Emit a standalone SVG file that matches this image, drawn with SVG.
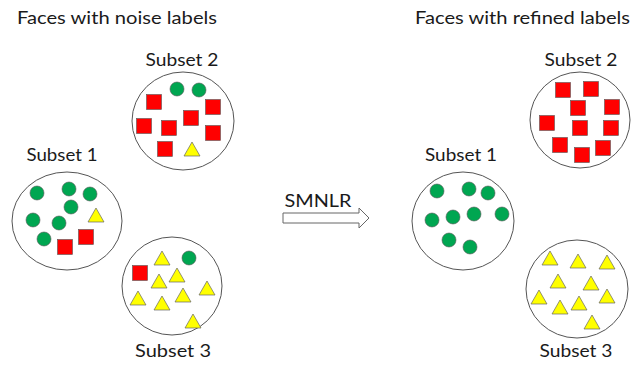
<svg xmlns="http://www.w3.org/2000/svg" xmlns:xlink="http://www.w3.org/1999/xlink" width="641" height="365" viewBox="0 0 641 365">
<style>
text{font-family:Lato,"Open Sans","DejaVu Sans",sans-serif;fill:#1a1a1a}
.title{font-size:17.5px}
.lbl{font-size:18px;text-anchor:middle}
.set{fill:#fff;stroke:#555;stroke-width:1}
.c{fill:#00a651;stroke:#555;stroke-width:0.6}
.s{fill:#ff0000;stroke:#555;stroke-width:0.6}
.t{fill:#ffff00;stroke:#666;stroke-width:0.7}
.arrow{fill:#fff;stroke:#666;stroke-width:1}
</style>
<defs>
<circle id="C" r="7" class="c"/>
<rect id="S" x="-7.5" y="-7.5" width="15" height="15" class="s"/>
<path id="T" d="M0,-8 L8,6 L-8,6 Z" class="t"/>
</defs>
<rect width="641" height="365" fill="#fff"/>
<text class="title" x="17" y="24" textLength="200" lengthAdjust="spacingAndGlyphs">Faces with noise labels</text>
<text class="title" x="415" y="24" textLength="215" lengthAdjust="spacingAndGlyphs">Faces with refined labels</text>

<g id="noisy-subset1">
<text class="lbl" x="62" y="161" textLength="71" lengthAdjust="spacingAndGlyphs">Subset 1</text>
<ellipse class="set" cx="67" cy="221" rx="55" ry="49"/>
<use xlink:href="#C" x="37" y="193"/>
<use xlink:href="#C" x="69" y="189"/>
<use xlink:href="#C" x="90" y="194"/>
<use xlink:href="#C" x="71" y="207"/>
<use xlink:href="#T" x="96" y="216"/>
<use xlink:href="#C" x="33" y="220"/>
<use xlink:href="#C" x="59" y="223"/>
<use xlink:href="#C" x="44" y="239"/>
<use xlink:href="#S" x="65" y="247"/>
<use xlink:href="#S" x="86" y="237"/>
</g>

<g id="noisy-subset2">
<text class="lbl" x="182" y="66" textLength="73" lengthAdjust="spacingAndGlyphs">Subset 2</text>
<ellipse class="set" cx="183" cy="121" rx="51" ry="49"/>
<use xlink:href="#C" x="177" y="89"/>
<use xlink:href="#C" x="199" y="90"/>
<use xlink:href="#S" x="154" y="102"/>
<use xlink:href="#S" x="213" y="107"/>
<use xlink:href="#S" x="191" y="118"/>
<use xlink:href="#S" x="144" y="126"/>
<use xlink:href="#S" x="169" y="128"/>
<use xlink:href="#S" x="213" y="133"/>
<use xlink:href="#S" x="165" y="149"/>
<use xlink:href="#T" x="192" y="150"/>
</g>

<g id="noisy-subset3">
<ellipse class="set" cx="172" cy="286" rx="50" ry="49"/>
<use xlink:href="#S" x="140" y="273"/>
<use xlink:href="#T" x="162" y="259"/>
<use xlink:href="#C" x="189" y="258"/>
<use xlink:href="#T" x="177" y="276"/>
<use xlink:href="#T" x="159" y="282"/>
<use xlink:href="#T" x="207" y="289"/>
<use xlink:href="#T" x="138" y="299"/>
<use xlink:href="#T" x="162" y="304"/>
<use xlink:href="#T" x="183" y="296"/>
<use xlink:href="#T" x="193" y="322"/>
<text class="lbl" x="173" y="357" textLength="76" lengthAdjust="spacingAndGlyphs">Subset 3</text>
</g>

<g id="refined-subset1">
<text class="lbl" x="461" y="161" textLength="72" lengthAdjust="spacingAndGlyphs">Subset 1</text>
<ellipse class="set" cx="463" cy="221" rx="51" ry="49"/>
<use xlink:href="#C" x="437" y="191"/>
<use xlink:href="#C" x="469" y="189"/>
<use xlink:href="#C" x="488" y="193"/>
<use xlink:href="#C" x="432" y="220"/>
<use xlink:href="#C" x="453" y="217"/>
<use xlink:href="#C" x="474" y="214"/>
<use xlink:href="#C" x="502" y="214"/>
<use xlink:href="#C" x="449" y="240"/>
<use xlink:href="#C" x="470" y="247"/>
</g>

<g id="refined-subset2">
<text class="lbl" x="581" y="66" textLength="73" lengthAdjust="spacingAndGlyphs">Subset 2</text>
<ellipse class="set" cx="580" cy="120" rx="50" ry="48"/>
<use xlink:href="#S" x="563" y="90"/>
<use xlink:href="#S" x="591" y="89"/>
<use xlink:href="#S" x="578" y="108"/>
<use xlink:href="#S" x="612" y="107"/>
<use xlink:href="#S" x="547" y="123"/>
<use xlink:href="#S" x="580" y="128"/>
<use xlink:href="#S" x="611" y="128"/>
<use xlink:href="#S" x="560" y="145"/>
<use xlink:href="#S" x="582" y="155"/>
<use xlink:href="#S" x="603" y="148"/>
</g>

<g id="refined-subset3">
<ellipse class="set" cx="577" cy="289" rx="51" ry="49"/>
<use xlink:href="#T" x="550" y="259"/>
<use xlink:href="#T" x="578" y="262"/>
<use xlink:href="#T" x="607" y="263"/>
<use xlink:href="#T" x="558" y="282"/>
<use xlink:href="#T" x="591" y="284"/>
<use xlink:href="#T" x="539" y="298"/>
<use xlink:href="#T" x="560" y="308"/>
<use xlink:href="#T" x="579" y="304"/>
<use xlink:href="#T" x="607" y="297"/>
<use xlink:href="#T" x="592" y="323"/>
<text class="lbl" x="576" y="357" textLength="73" lengthAdjust="spacingAndGlyphs">Subset 3</text>
</g>

<g id="connectors">
<polygon class="arrow" points="283,213 359,213 359,208 369,218 359,228 359,223 283,223"/>
<text class="lbl" x="318" y="207" textLength="67" lengthAdjust="spacingAndGlyphs">SMNLR</text>
</g>
</svg>
